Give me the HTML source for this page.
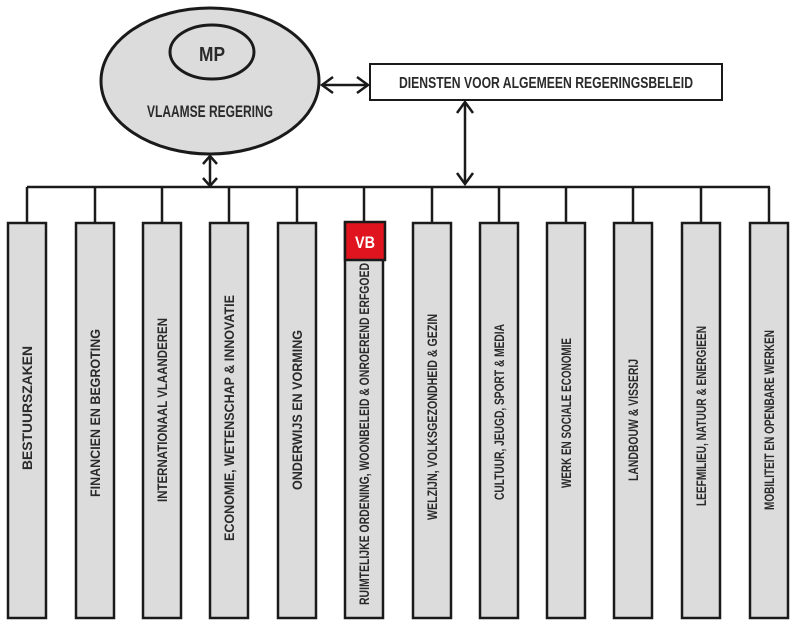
<!DOCTYPE html>
<html><head><meta charset="utf-8"><style>
html,body{margin:0;padding:0;background:#fff;}
svg text{font-family:"Liberation Sans",sans-serif;font-weight:bold;fill:#2a2a2a;}
</style></head><body>
<svg width="800" height="631" viewBox="0 0 800 631" xmlns="http://www.w3.org/2000/svg">
<g stroke="#1a1a1a" stroke-width="2.5" fill="none">
<ellipse cx="210" cy="81" rx="109" ry="73" fill="#dcdcdc" stroke-width="3"/>
<ellipse cx="212" cy="52" rx="42" ry="27" stroke-width="3"/>
<rect x="370" y="64" width="352" height="36" fill="#fff" stroke-width="2"/>
<line x1="322" y1="85" x2="368" y2="85"/>
<polyline points="333,77 322,85 333,93"/>
<polyline points="357,77 368,85 357,93"/>
<line x1="465" y1="102" x2="465" y2="184"/>
<polyline points="457,113 465,102 473,113"/>
<polyline points="457,173 465,184 473,173"/>
<line x1="210" y1="156" x2="210" y2="185"/>
<polyline points="203,164 210,156 217,164"/>
<polyline points="203,178 210,186 217,178"/>
<line x1="27" y1="187" x2="770" y2="187"/>
</g>
<text x="212" y="61" font-size="20" text-anchor="middle" textLength="26" lengthAdjust="spacingAndGlyphs">MP</text>
<text x="210" y="117" font-size="17" text-anchor="middle" textLength="126" lengthAdjust="spacingAndGlyphs">VLAAMSE REGERING</text>
<text x="546" y="88" font-size="16" text-anchor="middle" textLength="294" lengthAdjust="spacingAndGlyphs">DIENSTEN VOOR ALGEMEEN REGERINGSBELEID</text>
<g stroke="#1a1a1a" stroke-width="2.5">
<line x1="27" y1="187" x2="27" y2="223"/><rect x="8" y="223" width="38" height="395" fill="#dcdcdc"/>
<line x1="95" y1="187" x2="95" y2="223"/><rect x="76" y="223" width="38" height="395" fill="#dcdcdc"/>
<line x1="162" y1="187" x2="162" y2="223"/><rect x="143" y="223" width="38" height="395" fill="#dcdcdc"/>
<line x1="229" y1="187" x2="229" y2="223"/><rect x="210" y="223" width="38" height="395" fill="#dcdcdc"/>
<line x1="297" y1="187" x2="297" y2="223"/><rect x="278" y="223" width="38" height="395" fill="#dcdcdc"/>
<line x1="364" y1="187" x2="364" y2="223"/><rect x="345" y="223" width="38" height="395" fill="#dcdcdc"/>
<line x1="432" y1="187" x2="432" y2="223"/><rect x="413" y="223" width="38" height="395" fill="#dcdcdc"/>
<line x1="499" y1="187" x2="499" y2="223"/><rect x="480" y="223" width="38" height="395" fill="#dcdcdc"/>
<line x1="566" y1="187" x2="566" y2="223"/><rect x="547" y="223" width="38" height="395" fill="#dcdcdc"/>
<line x1="633" y1="187" x2="633" y2="223"/><rect x="614" y="223" width="38" height="395" fill="#dcdcdc"/>
<line x1="701" y1="187" x2="701" y2="223"/><rect x="682" y="223" width="38" height="395" fill="#dcdcdc"/>
<line x1="769" y1="187" x2="769" y2="223"/><rect x="750" y="223" width="38" height="395" fill="#dcdcdc"/>
<rect x="345" y="222" width="40" height="38" fill="#e0141e"/>
</g>
<text x="365" y="248" font-size="17" style="fill:#fff" text-anchor="middle" textLength="20" lengthAdjust="spacingAndGlyphs">VB</text>
<g font-size="14" text-anchor="middle">
<text transform="translate(32,408) rotate(-90)" textLength="124" lengthAdjust="spacingAndGlyphs">BESTUURSZAKEN</text>
<text transform="translate(100,413) rotate(-90)" textLength="168" lengthAdjust="spacingAndGlyphs">FINANCIEN EN BEGROTING</text>
<text transform="translate(167,410) rotate(-90)" textLength="184" lengthAdjust="spacingAndGlyphs">INTERNATIONAAL VLAANDEREN</text>
<text transform="translate(234,418) rotate(-90)" textLength="246" lengthAdjust="spacingAndGlyphs">ECONOMIE, WETENSCHAP &amp; INNOVATIE</text>
<text transform="translate(302,410) rotate(-90)" textLength="160" lengthAdjust="spacingAndGlyphs">ONDERWIJS EN VORMING</text>
<text transform="translate(369,434) rotate(-90)" textLength="342" lengthAdjust="spacingAndGlyphs">RUIMTELIJKE ORDENING, WOONBELEID &amp; ONROEREND ERFGOED</text>
<text transform="translate(437,417) rotate(-90)" textLength="206" lengthAdjust="spacingAndGlyphs">WELZIJN, VOLKSGEZONDHEID &amp; GEZIN</text>
<text transform="translate(504,412) rotate(-90)" textLength="176" lengthAdjust="spacingAndGlyphs">CULTUUR, JEUGD, SPORT &amp; MEDIA</text>
<text transform="translate(571,413) rotate(-90)" textLength="150" lengthAdjust="spacingAndGlyphs">WERK EN SOCIALE ECONOMIE</text>
<text transform="translate(638,420) rotate(-90)" textLength="122" lengthAdjust="spacingAndGlyphs">LANDBOUW &amp; VISSERIJ</text>
<text transform="translate(706,416) rotate(-90)" textLength="180" lengthAdjust="spacingAndGlyphs">LEEFMILIEU, NATUUR &amp; ENERGIEEN</text>
<text transform="translate(774,420) rotate(-90)" textLength="180" lengthAdjust="spacingAndGlyphs">MOBILITEIT EN OPENBARE WERKEN</text>
</g>
</svg>
</body></html>
